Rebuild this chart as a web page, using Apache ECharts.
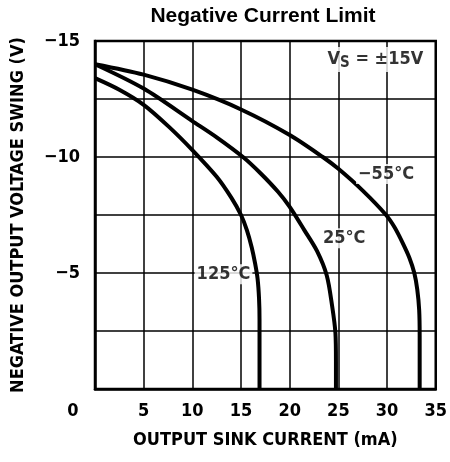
<!DOCTYPE html>
<html>
<head>
<meta charset="utf-8">
<script src="https://cdn.jsdelivr.net/npm/echarts@6/dist/echarts.min.js"></script>
<style>
  html, body { margin: 0; padding: 0; background: #fff; }
  #main { width: 450px; height: 462px; }
</style>
</head>
<body>
<div id="main"></div>
<script>
// curves: [sink current mA, output swing V]
const curveM55 = [[0, -14], [5, -13.55], [10, -12.9], [15, -12.05], [20, -10.95], [23.4, -10], [25, -9.49],
  [27.5, -8.55], [29.9, -7.5], [30.8, -6.95], [31.6, -6.3], [32.3, -5.65], [32.8, -5.0], [33.1, -4.3],
  [33.3, -3.4], [33.35, -2.3], [33.35, 0]]
const curve25 = [[0, -14], [5, -12.95], [10, -11.55], [12.5, -10.85], [15.2, -10], [17, -9.3], [18.8, -8.5],
  [20, -7.85], [21.5, -6.85], [22.8, -5.95], [23.8, -4.9], [24.35, -3.6], [24.7, -2.4], [24.75, -1.2], [24.75, 0]]
const curve125 = [[0, -13.4], [2.5, -12.9], [5, -12.25], [7.6, -11.3], [10, -10.3], [12.5, -9.15], [14, -8.25],
  [15, -7.5], [15.6, -6.85], [16.1, -6.1], [16.45, -5.4], [16.7, -4.75], [16.85, -3.9], [16.9, -3], [16.9, 0]]

// curve labels: [x mA, y V, text]
const notes = [[29.9, -9.27, '\u221255\u00b0C'], [25.6, -6.5, '25\u00b0C'], [13.2, -4.95, '125\u00b0C']]
const supplyNote = [28.8, -14.2]

const xTicks = [0, 5, 10, 15, 20, 25, 30, 35]
const yTicks = [-15, -10, -5]

const narrow = '"Liberation Sans Narrow", "DejaVu Sans Condensed", sans-serif'

const chart = echarts.init(document.getElementById('main'))

const lineSeries = (data) => ({
  type: 'line',
  data: data,
  showSymbol: false,
  smooth: 0.3,
  lineStyle: { color: '#000', width: 4 },
  z: 3
})

chart.setOption({
  animation: false,
  title: {
    text: 'Negative Current Limit',
    left: 258,
    textAlign: 'center',
    top: 1,
    textStyle: { fontFamily: '"Liberation Sans", Arial, sans-serif', fontSize: 21, fontWeight: 'bold', color: '#000' }
  },
  grid: {
    left: 95,
    right: 10,
    top: 41,
    bottom: 73,
    show: true,
    borderColor: '#000',
    borderWidth: 2.5
  },
  xAxis: {
    type: 'value',
    min: 0,
    max: 35,
    interval: 5,
    name: 'OUTPUT SINK CURRENT (mA)',
    nameLocation: 'middle',
    nameGap: 42,
    nameTextStyle: { fontFamily: narrow, fontSize: 18, fontWeight: 'bold', color: '#000' },
    axisLine: { lineStyle: { color: '#000', width: 2.5 } },
    axisTick: { show: false },
    splitLine: { lineStyle: { color: '#000', width: 1.5 } },
    axisLabel: {
      margin: 13,
      fontFamily: narrow,
      fontSize: 18,
      fontWeight: 'bold',
      color: '#000',
      formatter: (v) => {
        if (!xTicks.includes(v)) return ''
        return v === 0 ? '{z|0}' : String(v)
      },
      rich: {
        z: { fontFamily: narrow, fontSize: 18, fontWeight: 'bold', color: '#000', padding: [0, 44, 0, 0] }
      }
    }
  },
  yAxis: {
    type: 'value',
    inverse: true,
    min: -15,
    max: 0,
    interval: 2.5,
    name: 'NEGATIVE OUTPUT VOLTAGE SWING (V)',
    nameLocation: 'middle',
    nameRotate: 90,
    nameGap: 68,
    nameTextStyle: { fontFamily: narrow, fontSize: 18, fontWeight: 'bold', color: '#000' },
    axisLine: { show: true, lineStyle: { color: '#000', width: 2.5 } },
    axisTick: { show: false },
    splitLine: { lineStyle: { color: '#000', width: 1.5 } },
    axisLabel: {
      margin: 15,
      fontFamily: narrow,
      fontSize: 18,
      fontWeight: 'bold',
      color: '#000',
      formatter: (v) => yTicks.includes(v) ? '\u2212' + Math.abs(v) : ''
    }
  },
  series: [
    lineSeries(curveM55),
    lineSeries(curve25),
    lineSeries(curve125),
    {
      type: 'scatter',
      symbolSize: 0,
      z: 5,
      data: notes.map(n => ({ value: [n[0], n[1]], name: n[2] })),
      label: {
        show: true,
        position: 'inside',
        formatter: '{b}',
        fontFamily: narrow,
        fontSize: 18,
        fontWeight: 'bold',
        color: '#000',
        backgroundColor: '#fff',
        padding: [1, 2]
      }
    },
    {
      type: 'scatter',
      symbolSize: 0,
      z: 5,
      data: [{ value: supplyNote }],
      label: {
        show: true,
        position: 'inside',
        formatter: '{v|V}{s|S}{v| = \u00b115V}',
        backgroundColor: '#fff',
        padding: [1, 2],
        rich: {
          v: { fontFamily: narrow, fontSize: 18, fontWeight: 'bold', color: '#000' },
          s: { fontFamily: narrow, fontSize: 15, fontWeight: 'bold', color: '#000', padding: [8, 0, 0, 0] }
        }
      }
    }
  ]
})
</script>
</body>
</html>
